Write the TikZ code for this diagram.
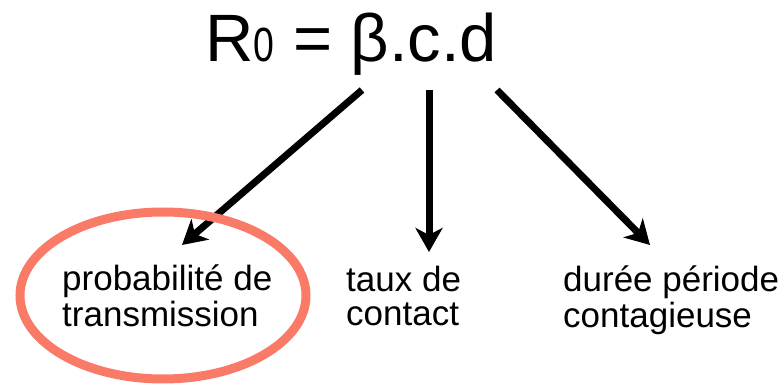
\documentclass[tikz,border=0pt]{standalone}
\usepackage{fontspec}
\usepackage{graphicx}
\setmainfont{Liberation Sans}
\usetikzlibrary{arrows.meta,shapes.geometric}
\definecolor{ringc}{RGB}{250,122,104}
\begin{document}
\begin{tikzpicture}[x=1pt,y=-1pt,
  lbl/.style={anchor=base west, inner sep=0pt, font=\fontsize{35}{34}\selectfont},
  arr/.style={line width=7pt, -{Stealth[length=24pt,width=27pt,inset=7pt]}},
  ring/.style={draw=ringc, line width=9pt, ellipse, minimum width=286pt, minimum height=167pt, inner sep=0pt}]
\useasboundingbox (0,0) rectangle (780,390);
\node[anchor=base west, inner sep=0pt, font=\fontsize{67}{70}\selectfont] (t) at (205,62) {R{\fontsize{48}{48}\selectfont\scalebox{0.78}[1]{0}} = β.c.d};
\node[lbl] (p) at (62,291) {\begin{tabular}[t]{@{}l@{}}probabilité de\\transmission\end{tabular}};
\node[lbl] (c) at (346,292) {\begin{tabular}[t]{@{}l@{}}taux de\\contact\end{tabular}};
\node[lbl] (d) at (563,292) {\begin{tabular}[t]{@{}l@{}}durée période\\contagieuse\end{tabular}};
\coordinate (s1) at (362,90);
\coordinate (e1) at (182,245);
\coordinate (s2) at (429,90);
\coordinate (e2) at (429,252);
\coordinate (s3) at (497,90);
\coordinate (e3) at (650,245);
\draw[arr] (s1) -- (e1);
\draw[arr] (s2) -- (e2);
\draw[arr] (s3) -- (e3);
\node[ring] (o) at (163,295.5) {};
\end{tikzpicture}
\end{document}
